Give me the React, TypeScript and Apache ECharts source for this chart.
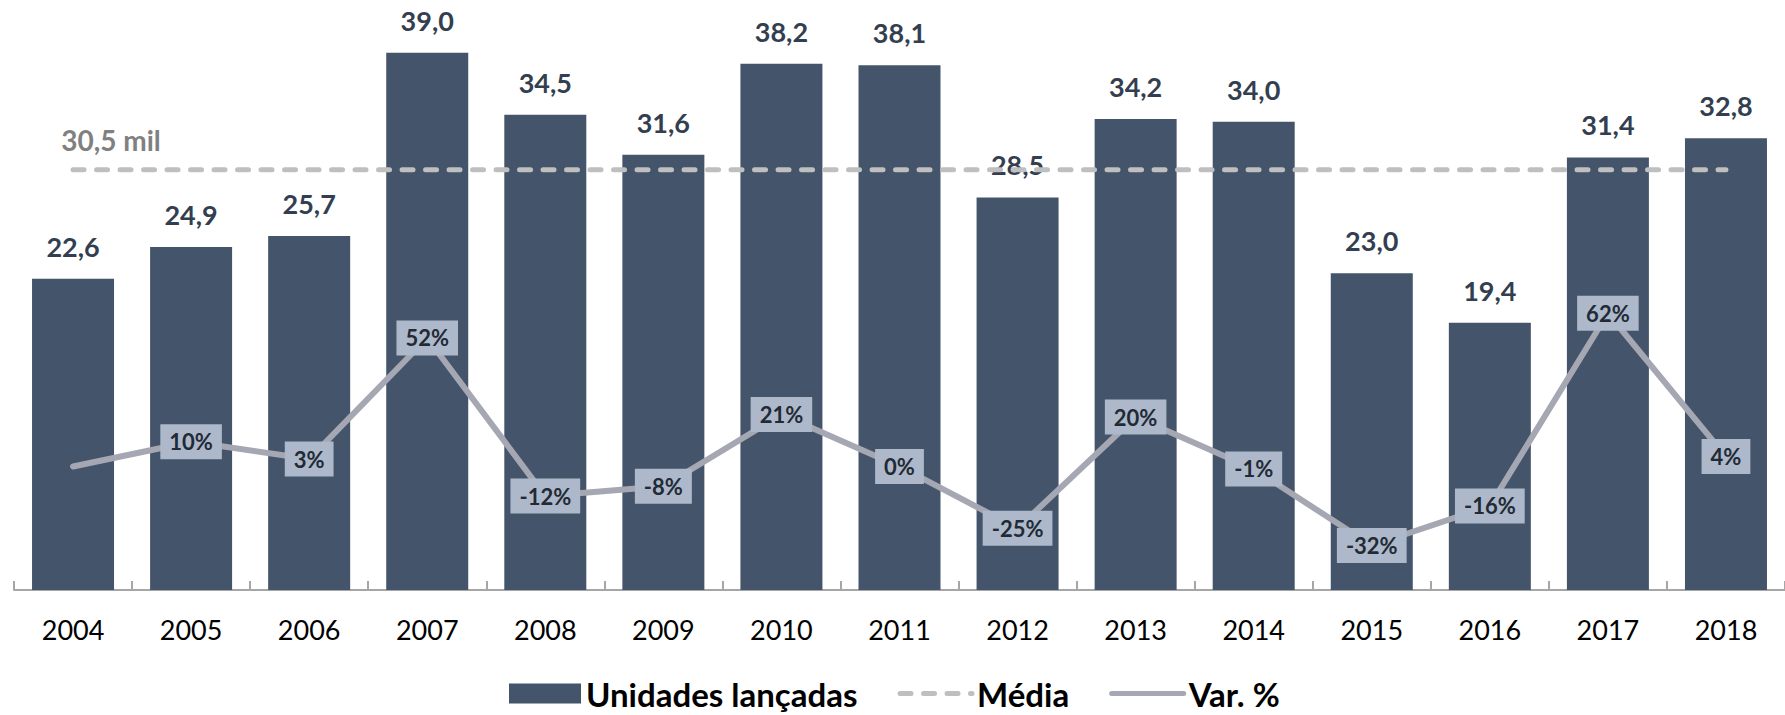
import React, { useEffect, useRef } from "react";
import * as echarts from "echarts";

const years = ["2004", "2005", "2006", "2007", "2008", "2009", "2010", "2011", "2012", "2013", "2014", "2015", "2016", "2017", "2018"];
const unidades = [22.6, 24.9, 25.7, 39.0, 34.5, 31.6, 38.2, 38.1, 28.5, 34.2, 34.0, 23.0, 19.4, 31.4, 32.8];
const media = [30.5, 30.5, 30.5, 30.5, 30.5, 30.5, 30.5, 30.5, 30.5, 30.5, 30.5, 30.5, 30.5, 30.5, 30.5];
const variacao = [0, 10, 3, 52, -12, -8, 21, 0, -25, 20, -1, -32, -16, 62, 4];
const mediaLabel = "30,5 mil";

const FONT = "Lato, 'Open Sans', sans-serif";

export default function App() {
  const ref = useRef<HTMLDivElement>(null);
  useEffect(() => {
    if (!ref.current) return;
    const chart = echarts.init(ref.current, null, { renderer: "svg" });
    chart.setOption({
      animation: false,
      backgroundColor: "#ffffff",
      textStyle: { fontFamily: FONT },
      grid: { left: 14, top: 39, width: 1781, height: 551 },
      legend: {
        top: 672,
        left: 504,
        itemWidth: 72,
        itemHeight: 20,
        itemGap: 40,
        textStyle: {
          fontFamily: FONT,
          fontSize: 33,
          lineHeight: 33,
          fontWeight: "bold",
          color: "#000000",
          padding: [0, 0, 0, 0],
        },
        data: [
          { name: "Unidades lançadas", icon: "rect" },
          { name: "Média", itemStyle: { opacity: 0 }, lineStyle: { width: 5 } },
          { name: "Var. %", itemStyle: { opacity: 0 }, lineStyle: { width: 5 } },
        ],
      },
      xAxis: {
        type: "category",
        data: years,
        boundaryGap: true,
        axisLine: { show: true, lineStyle: { color: "#A6A6A6", width: 2 } },
        axisTick: { show: true, inside: true, length: 9, alignWithLabel: false, lineStyle: { color: "#A6A6A6", width: 2 } },
        axisLabel: { margin: 26, fontFamily: FONT, fontSize: 27, color: "#000000" },
      },
      yAxis: [
        { type: "value", min: 0, max: 40, show: false, splitLine: { show: false } },
        { type: "value", min: -50, max: 173, show: false, splitLine: { show: false } },
      ],
      series: [
        {
          name: "Unidades lançadas",
          type: "bar",
          data: unidades,
          barWidth: 82,
          itemStyle: { color: "#44546A" },
          label: {
            show: true,
            position: "top",
            distance: 19,
            fontFamily: FONT,
            fontSize: 27,
            fontWeight: "bold",
            color: "#333F50",
            formatter: (p: any) => Number(p.value).toFixed(1).replace(".", ","),
          },
          z: 1,
        },
        {
          name: "Média",
          type: "line",
          data: media.map((v, i) =>
            i === 0
              ? {
                  value: v,
                  label: {
                    show: true,
                    position: "top",
                    distance: 0,
                    offset: [38, -15],
                    formatter: mediaLabel,
                    fontFamily: FONT,
                    fontSize: 28,
                    fontWeight: "bold",
                    color: "#808080",
                  },
                }
              : v
          ),
          symbol: "circle",
          symbolSize: 1,
          itemStyle: { color: "#BFBFBF" },
          lineStyle: { color: "#BFBFBF", width: 5, type: [11, 12.5], cap: "round" },
          label: { show: false },
          z: 3,
        },
        {
          name: "Var. %",
          type: "line",
          yAxisIndex: 1,
          data: variacao.map((v, i) => (i === 0 ? { value: v, label: { show: false } } : v)),
          symbol: "circle",
          symbolSize: 1,
          itemStyle: { color: "#A5A7B2" },
          lineStyle: { color: "#A5A7B2", width: 6, cap: "round", join: "round" },
          label: {
            show: true,
            position: "inside",
            backgroundColor: "#ADB9CA",
            padding: [7, 9, 6, 9],
            fontFamily: FONT,
            fontSize: 22,
            fontWeight: "bold",
            color: "#222A35",
            formatter: (p: any) => `${p.value}%`,
          },
          z: 4,
        },
      ],
    });
    return () => chart.dispose();
  }, []);
  return <div ref={ref} style={{ position: "absolute", left: 0, top: 0, width: 1785, height: 715 }} />;
}
